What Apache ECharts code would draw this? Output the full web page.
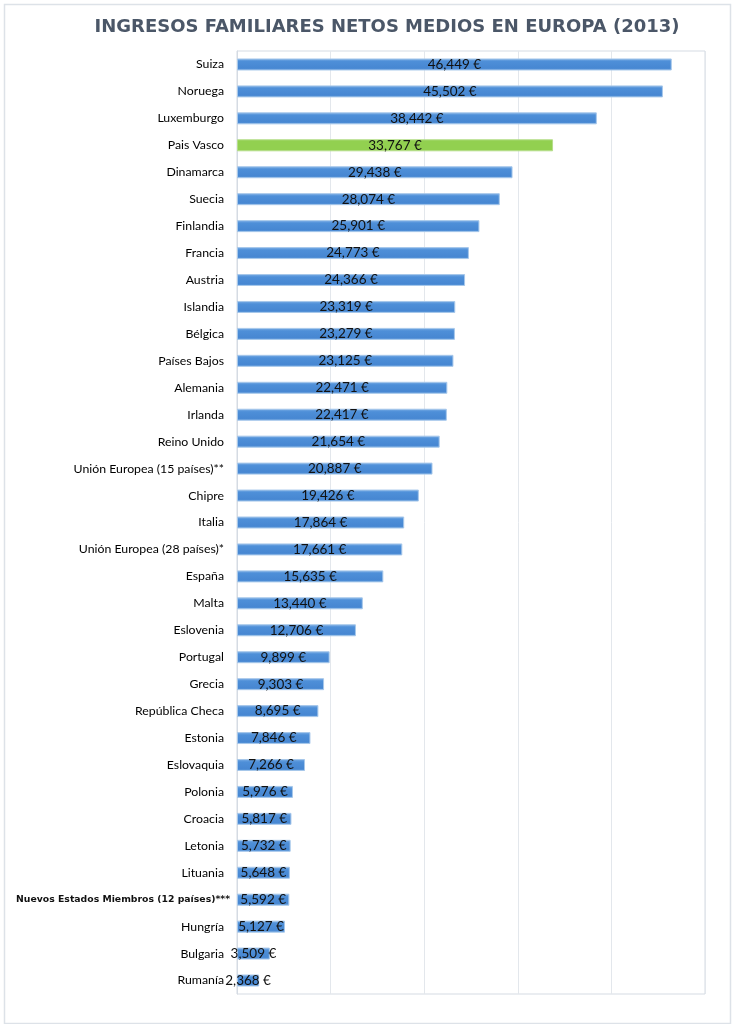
<!DOCTYPE html>
<html>
<head>
<meta charset="utf-8">
<script src="https://cdn.jsdelivr.net/npm/echarts@6/dist/echarts.min.js"></script>
<style>
html,body{margin:0;padding:0;background:#fff;}
#c{width:732px;height:1024px;}
</style>
</head>
<body>
<div id="c"></div>
<script>
const titleText = 'INGRESOS FAMILIARES NETOS MEDIOS EN EUROPA (2013)';
const categories = [
  'Suiza','Noruega','Luxemburgo','Pais Vasco','Dinamarca','Suecia','Finlandia','Francia','Austria',
  'Islandia','Bélgica','Países Bajos','Alemania','Irlanda','Reino Unido','Unión Europea (15 países)**',
  'Chipre','Italia','Unión Europea (28 países)*','España','Malta','Eslovenia','Portugal','Grecia',
  'República Checa','Estonia','Eslovaquia','Polonia','Croacia','Letonia','Lituania',
  'Nuevos Estados Miembros (12 países)***','Hungría','Bulgaria','Rumanía'
];
const values = [
  46449,45502,38442,33767,29438,28074,25901,24773,24366,
  23319,23279,23125,22471,22417,21654,20887,
  19426,17864,17661,15635,13440,12706,9899,9303,
  8695,7846,7266,5976,5817,5732,5648,
  5592,5127,3509,2368
];
const highlight = 'Pais Vasco';
const boldCategory = 'Nuevos Estados Miembros (12 países)***';
const axisMax = 50000;
const axisInterval = 10000;

function fmt(v){
  return String(v).replace(/\B(?=(\d{3})+(?!\d))/g, ',') + ' €';
}

const blue = {type:'linear',x:0,y:0,x2:0,y2:1,colorStops:[
  {offset:0,color:'#7fb0e6'},{offset:0.25,color:'#4e8fd8'},{offset:0.8,color:'#4787d2'},{offset:1,color:'#5f9bdc'}]};
const green = '#92d050';

const chart = echarts.init(document.getElementById('c'), null, {renderer:'canvas'});
chart.setOption({
  backgroundColor:'#ffffff',
  animation:false,
  title:{
    text:titleText,
    left:382, top:13, textAlign:'center',
    textStyle:{fontFamily:'DejaVu Sans', fontWeight:'bold', fontSize:18, color:'#4b5768'}
  },
  graphic:[{
    type:'rect', left:2, top:2, silent:true,
    shape:{width:726, height:1019},
    style:{fill:'none', stroke:'#dde2e8', lineWidth:1.5}
  }],
  grid:{left:237, right:27, top:51, bottom:30, show:true, borderColor:'#d5dbe3', borderWidth:1, containLabel:false},
  xAxis:{
    type:'value', min:0, max:axisMax, interval:axisInterval,
    axisLabel:{show:false}, axisTick:{show:false}, axisLine:{show:false},
    splitLine:{show:true, lineStyle:{color:'#e3e7ec', width:1}}
  },
  yAxis:{
    type:'category', data:categories, inverse:true,
    axisTick:{show:false},
    axisLine:{show:true, lineStyle:{color:'#d5dbe3'}},
    axisLabel:{
      margin:13, color:'#000', fontFamily:'Lato', fontSize:12.3,
      formatter:function(v){ return v === boldCategory ? '{b|' + v + '}' : v; },
      rich:{b:{fontFamily:'DejaVu Sans', fontWeight:'bold', fontSize:9.3, color:'#111', padding:[0,-6,0,0]}}
    }
  },
  series:[{
    type:'bar',
    data:values.map(function(v,i){
      return {value:v, itemStyle:{color: categories[i]===highlight ? green : blue,
        borderColor: categories[i]===highlight ? '#b5dd8a' : '#a6c7ea', borderWidth:1}};
    }),
    barWidth:12,
    label:{
      show:true, position:'inside', color:'#111', fontFamily:'Lato', fontSize:13.5,
      formatter:function(p){ return fmt(p.value); }
    }
  }]
});
</script>
</body>
</html>
